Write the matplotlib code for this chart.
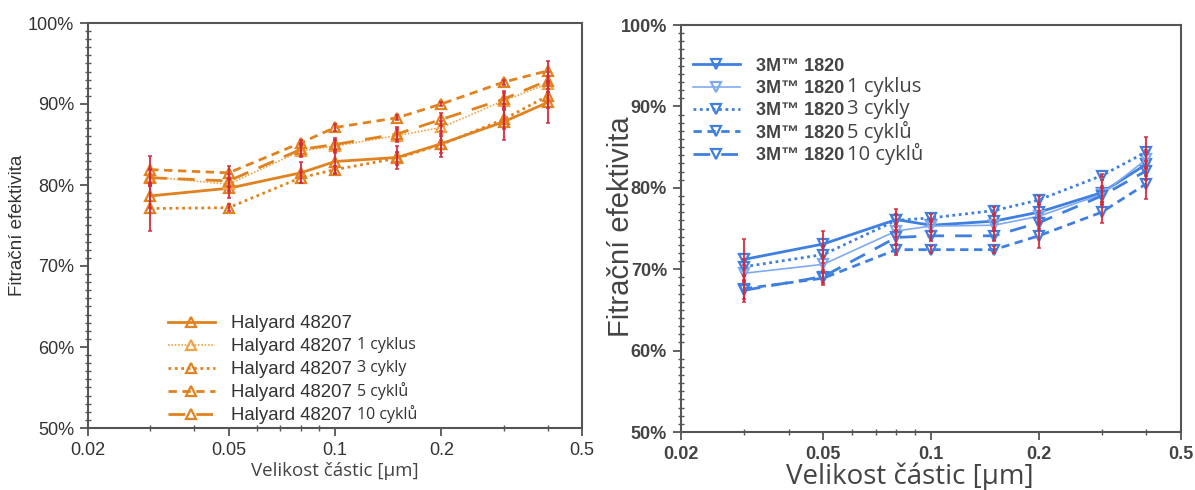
import matplotlib
matplotlib.use('Agg')
import matplotlib.pyplot as plt
from matplotlib.ticker import FixedLocator, FixedFormatter, NullFormatter, MultipleLocator

# ---------------- data ----------------
particle_size = [0.03, 0.05, 0.08, 0.1, 0.15, 0.2, 0.3, 0.4]

x_tick_values = [0.02, 0.05, 0.1, 0.2, 0.5]
x_tick_labels = ["0.02", "0.05", "0.1", "0.2", "0.5"]
x_minor_values = [0.03, 0.04, 0.06, 0.07, 0.08, 0.09, 0.3, 0.4]
y_tick_values = [50, 60, 70, 80, 90, 100]
y_tick_labels = ["50%", "60%", "70%", "80%", "90%", "100%"]

suffixes = ["", "1 cyklus", "3 cykly", "5 cyklů", "10 cyklů"]

halyard_name = "Halyard 48207"
halyard_0 = [78.65, 79.6, 81.5, 82.9, 83.4, 85.1, 87.8, 90.2]
halyard_1 = [81.0, 80.1, 84.2, 84.8, 86.1, 87.1, 90.4, 92.5]
halyard_3 = [77.1, 77.2, 80.9, 81.9, 83.3, 85.0, 88.1, 91.0]
halyard_5 = [81.9, 81.5, 85.2, 87.1, 88.3, 90.0, 92.7, 94.1]
halyard_10 = [80.9, 80.5, 84.4, 85.0, 86.3, 88.1, 90.6, 92.9]
halyard_err_0 = [1.5, 1.2, 1.3, 1.4, 1.4, 1.6, 2.2, 2.5]
halyard_err_1 = [1.0, 0.8, 0.8, 0.8, 0.8, 0.8, 1.0, 1.0]
halyard_err_3 = [2.8, 0.4, 0.7, 0.5, 0.8, 1.0, 1.2, 1.5]
halyard_err_5 = [1.7, 0.8, 0.3, 0.4, 0.3, 0.3, 0.3, 1.2]
halyard_err_10 = [1.0, 0.8, 0.8, 0.8, 0.8, 0.8, 1.0, 1.0]

mmm_name = "3M™ 1820"
mmm_0 = [71.2, 73.1, 76.1, 75.4, 75.9, 77.0, 79.4, 82.9]
mmm_1 = [69.5, 70.6, 74.7, 75.3, 75.4, 76.5, 79.2, 83.5]
mmm_3 = [70.3, 71.8, 76.0, 76.3, 77.2, 78.5, 81.5, 84.4]
mmm_5 = [67.6, 68.9, 72.4, 72.4, 72.4, 74.1, 77.0, 80.5]
mmm_10 = [67.4, 69.1, 73.9, 74.1, 74.1, 75.7, 79.0, 82.1]
mmm_err_0 = [2.5, 1.6, 1.3, 0.8, 0.8, 0.9, 1.5, 1.5]
mmm_err_1 = [1.0, 1.0, 0.8, 0.6, 0.6, 0.7, 1.0, 1.2]
mmm_err_3 = [1.0, 1.0, 0.8, 0.5, 0.4, 0.5, 0.2, 1.8]
mmm_err_5 = [1.6, 0.8, 0.6, 0.4, 0.4, 1.5, 1.3, 1.9]
mmm_err_10 = [1.0, 0.8, 0.8, 0.6, 0.6, 0.8, 1.0, 1.2]

# ---------------- styles ----------------
orange = "#e0821f"
orange_light = "#f0a447"
blue = "#3f7fe0"
blue_light = "#7eaaf0"
err_color = "#d42a3e"
spine_color = "#555555"
text_color = "#333333"

left_styles = [
    dict(color=orange, ls="-", lw=2.0),
    dict(color=orange_light, ls=(0, (1, 1)), lw=1.2),
    dict(color=orange, ls=(0, (1, 1.3)), lw=2.0),
    dict(color=orange, ls=(0, (3, 2)), lw=2.0),
    dict(color=orange, ls=(0, (6, 4)), lw=2.0),
]
right_styles = [
    dict(color=blue, ls="-", lw=2.0),
    dict(color=blue_light, ls="-", lw=1.2),
    dict(color=blue, ls=(0, (1, 1.3)), lw=2.0),
    dict(color=blue, ls=(0, (3, 2)), lw=2.0),
    dict(color=blue, ls=(0, (6, 4)), lw=2.0),
]

fig = plt.figure(figsize=(11.95, 4.9), dpi=100)
W, H = 1195.0, 490.0
ax1 = fig.add_axes([88 / W, (H - 428) / H, 494 / W, 405 / H])
ax2 = fig.add_axes([681 / W, (H - 432) / H, 500 / W, 407 / H])


def style_axes(ax, tick_bold):
    ax.set_xscale("log")
    ax.set_xlim(0.02, 0.5)
    ax.set_ylim(50, 100)
    ax.xaxis.set_major_locator(FixedLocator(x_tick_values))
    ax.xaxis.set_major_formatter(FixedFormatter(x_tick_labels))
    ax.xaxis.set_minor_locator(FixedLocator(x_minor_values))
    ax.xaxis.set_minor_formatter(NullFormatter())
    ax.yaxis.set_major_locator(FixedLocator(y_tick_values))
    ax.yaxis.set_major_formatter(FixedFormatter(y_tick_labels))
    ax.yaxis.set_minor_locator(MultipleLocator(1))
    for s in ax.spines.values():
        s.set_color(spine_color)
        s.set_linewidth(1.5)
    ax.tick_params(which="major", direction="out", length=6, width=1.3,
                   color=spine_color, labelsize=13, labelcolor=text_color, pad=4)
    ax.tick_params(which="minor", direction="inout", length=4, width=1.0,
                   color=spine_color)
    ax.tick_params(top=False, right=False, which="both")
    for lab in ax.get_xticklabels() + ax.get_yticklabels():
        lab.set_family("Liberation Sans")
        if tick_bold:
            lab.set_fontweight("bold")
            lab.set_color("#444444")


def draw_panel(ax, series, errors, styles, marker):
    handles = []
    for vals, st in zip(series, styles):
        h, = ax.plot(particle_size, vals, marker=marker, ms=7, mfc="none",
                     mec=st["color"], mew=1.6, color=st["color"],
                     ls=st["ls"], lw=st["lw"], zorder=2)
        handles.append(h)
    for vals, err in zip(series, errors):
        ax.errorbar(particle_size, vals, yerr=err, fmt="none", ecolor=err_color,
                    elinewidth=1.5, capsize=1.2, capthick=1.2, alpha=0.9, zorder=3)
    return handles


left_series = [halyard_0, halyard_1, halyard_3, halyard_5, halyard_10]
left_errs = [halyard_err_0, halyard_err_1, halyard_err_3, halyard_err_5, halyard_err_10]
right_series = [mmm_0, mmm_1, mmm_3, mmm_5, mmm_10]
right_errs = [mmm_err_0, mmm_err_1, mmm_err_3, mmm_err_5, mmm_err_10]

style_axes(ax1, False)
style_axes(ax2, True)

h1 = draw_panel(ax1, left_series, left_errs, left_styles, "^")
h2 = draw_panel(ax2, right_series, right_errs, right_styles, "v")

leg1 = ax1.legend(h1, [halyard_name] * 5, loc="upper left",
                  bbox_to_anchor=(0.162, 0.278), frameon=False, borderpad=0,
                  borderaxespad=0, handlelength=2.5, handletextpad=0.9,
                  labelspacing=0.32, prop=dict(family="Liberation Sans", size=13.4))
leg2 = ax2.legend(h2, [mmm_name] * 5, loc="upper left",
                  bbox_to_anchor=(0.024, 0.92), frameon=False, borderpad=0,
                  borderaxespad=0, handlelength=2.6, handletextpad=0.9,
                  labelspacing=0.3, prop=dict(family="Liberation Sans", size=13, weight="bold"))
for t in leg1.get_texts():
    t.set_color(text_color)
for t in leg2.get_texts():
    t.set_color("#444444")

# axis labels
ax1.set_ylabel("Fitrační efektivita", family="Liberation Sans", fontsize=13.5,
               color=text_color)
ax1.yaxis.set_label_coords(-0.125, 0.5)
ax1.set_xlabel("Velikost částic [µm]", family="Open Sans", fontsize=13.5,
               color="#444444")
ax1.xaxis.set_label_coords(0.5, -0.085)

ax2.set_ylabel("Fitrační efektivita", family="Liberation Sans", fontsize=21,
               color="#444444")
ax2.yaxis.set_label_coords(-0.093, 0.505)
ax2.set_xlabel("Velikost částic [µm]", family="Open Sans", fontsize=20,
               color="#444444")
ax2.xaxis.set_label_coords(0.458, -0.075)

# suffix texts next to legend labels (smaller, different font)
fig.canvas.draw()
renderer = fig.canvas.get_renderer()
for leg, size, gap, color in [(leg1, 11.5, 5, text_color), (leg2, 14.5, 3, "#444444")]:
    for t, suf in zip(leg.get_texts(), suffixes):
        if not suf:
            continue
        bb = t.get_window_extent(renderer)
        fx = (bb.x1 + gap) / fig.bbox.width
        fy = (bb.y0 + bb.height * 0.5 + 1.5) / fig.bbox.height
        fig.text(fx, fy, suf, ha="left", va="center", fontsize=size,
                 family="Open Sans", color=color)

fig.savefig("out.png", dpi=100)
